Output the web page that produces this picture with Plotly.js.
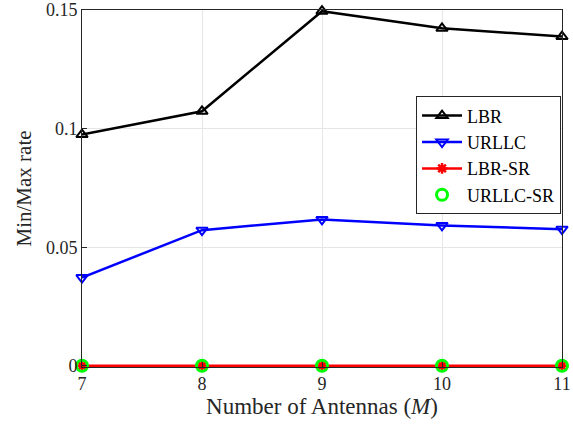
<!DOCTYPE html>
<html>
<head>
<meta charset="utf-8">
<script src="https://cdn.plot.ly/plotly-3.0.1.min.js"></script>
<style>html,body{margin:0;padding:0;background:#fff;}#chart{width:573px;height:428px;}</style>
</head>
<body>
<div id="chart"></div>
<script>
const antennas = [7, 8, 9, 10, 11];
const lbr = [0.0975, 0.1073, 0.1495, 0.1423, 0.1388];
const urllc = [0.0372, 0.0572, 0.0617, 0.0592, 0.0576];
const lbrSR = [0, 0, 0, 0, 0];
const urllcSR = [0, 0, 0, 0, 0];
const xTicks = [7, 8, 9, 10, 11];
const yTicks = [0, 0.05, 0.1, 0.15];
const yTickText = ['0', '0.05', '0.1', '0.15'];

const font = 'Liberation Serif';
const traces = [
  {x: antennas, y: lbr, name: 'LBR', mode: 'lines+markers', cliponaxis: false,
   line: {color: '#000000', width: 2.5},
   marker: {symbol: 'triangle-up-open', size: 10, color: '#000000', line: {width: 2, color: '#000000'}}},
  {x: antennas, y: urllc, name: 'URLLC', mode: 'lines+markers', cliponaxis: false,
   line: {color: '#0000ff', width: 2.5},
   marker: {symbol: 'triangle-down-open', size: 10, color: '#0000ff', line: {width: 2, color: '#0000ff'}}},
  {x: antennas, y: lbrSR, name: 'LBR-SR', mode: 'lines+markers', cliponaxis: false,
   line: {color: '#ff0000', width: 2.5},
   marker: {symbol: 'asterisk-open', size: 9, color: '#ff0000', line: {width: 2.5, color: '#ff0000'}}},
  {x: antennas, y: urllcSR, name: 'URLLC-SR', mode: 'markers', cliponaxis: false,
   marker: {symbol: 'circle-open', size: 11, color: '#00ff00', line: {width: 3, color: '#00ff00'}}}
];

const layout = {
  width: 573, height: 428,
  margin: {l: 82, r: 11, t: 10, b: 61},
  paper_bgcolor: '#ffffff', plot_bgcolor: '#ffffff',
  font: {family: font, size: 17, color: '#262626'},
  showlegend: true,
  legend: {x: 0.998, xanchor: 'right', y: 0.758, yanchor: 'top',
    bgcolor: '#ffffff', bordercolor: '#262626', borderwidth: 1,
    font: {family: font, size: 18, color: '#000000'}, tracegroupgap: 0, itemwidth: 40},
  xaxis: {range: [7, 11], tickvals: xTicks, ticktext: xTicks.map(String),
    showgrid: true, gridcolor: '#e6e6e6', gridwidth: 1,
    showline: true, linecolor: '#262626', linewidth: 1, mirror: true,
    ticks: 'inside', ticklen: 5, tickcolor: '#262626', zeroline: false,
    tickfont: {family: font, size: 18, color: '#262626'},
    title: {text: 'Number of Antennas (<i>M</i>)', font: {family: font, size: 23, color: '#262626'}, standoff: 2}},
  yaxis: {range: [-0.0005, 0.15], tickvals: yTicks, ticktext: yTickText,
    showgrid: true, gridcolor: '#e6e6e6', gridwidth: 1,
    showline: true, linecolor: '#262626', linewidth: 1, mirror: true,
    ticks: 'inside', ticklen: 5, tickcolor: '#262626', zeroline: false,
    tickfont: {family: font, size: 18, color: '#262626'},
    title: {text: 'Min/Max rate', font: {family: font, size: 21, color: '#262626'}, standoff: 8}}
};

Plotly.newPlot('chart', traces, layout, {displayModeBar: false, staticPlot: true});
</script>
</body>
</html>
